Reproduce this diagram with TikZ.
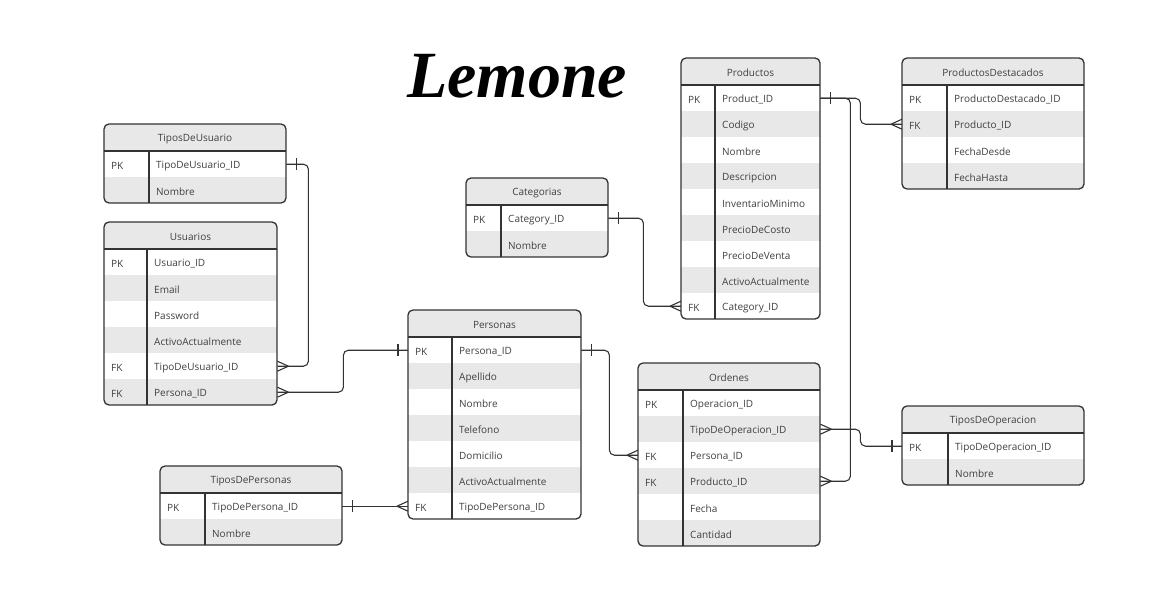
\documentclass[tikz,border=0pt]{standalone}
\usepackage{fontspec}
\setmainfont{Open Sans}
\newfontfamily\titlefont{Liberation Serif}
\usetikzlibrary{calc}
\colorlet{table edge}{black!80}
\colorlet{row area}{black!9}
\colorlet{field text}{black!75}
\tikzset{edge/.style={draw=table edge, line width=1.3pt},
    link/.style={draw=table edge, line width=1.1pt, rounded corners=5pt},
    field/.style={font=\fontsize{10}{12}\selectfont, text=field text, inner sep=0pt},
    rowbox/.style={minimum height=26pt, inner sep=0pt, anchor=north west}}
\newcommand\ertable[7]{%
  \foreach \k/\f [count=\i] in {#7} {\xdef\nrows{\i}}
  \pgfmathsetmacro\tabh{27+26*\nrows}
  \begin{scope}[shift={(#2,#3)}]
    \begin{scope}
      \clip[rounded corners=5pt] (0,0) rectangle (#4,\tabh);
      \fill[row area] (0,0) rectangle (#4,27);
      \foreach \k/\f [count=\i] in {#7} {
        \ifodd\i\def\rowfill{white}\else\def\rowfill{row area}\fi
        \node[rowbox, fill=\rowfill, minimum width=#4pt] (#1-\i) at (0,{1+26*\i}) {};
        \node[field, anchor=west] at ($(#1-\i.west)+(7,1.5)$) {\k};
        \node[field, anchor=west] at ($(#1-\i.west)+(#5+7,1.5)$) {\f};
      }
    \end{scope}
    \node[field] at (#4/2,15) {#6};
    \draw[edge] (0,27) -- (#4,27) (#5,27) -- (#5,\tabh);
    \draw[edge, rounded corners=5pt] (0,0) rectangle (#4,\tabh);
  \end{scope}}
\newcommand\manyend[2]{\draw[link] ($(#1)+(#2*11,0)$) -- ($(#1)+(0,-5)$) ($(#1)+(#2*11,0)$) -- ($(#1)+(0,5)$);}
\newcommand\oneend[2]{\draw[link] ($(#1)+(#2*10,-6)$) -- ($(#1)+(#2*10,6)$);}

\begin{document}
\begin{tikzpicture}[x=1pt,y=-1pt]
    \useasboundingbox (0,0) rectangle (1167,602);
    \node[font=\titlefont\bfseries\itshape\fontsize{66}{66}\selectfont, anchor=base] (title) at (517,97) {Lemone};
    \ertable{tdu}{104}{124}{182}{45}{TiposDeUsuario}{PK/TipoDeUsuario\_ID, /Nombre}
    \ertable{usu}{104}{222}{173}{43}{Usuarios}{PK/Usuario\_ID, /Email, /Password, /ActivoActualmente, FK/TipoDeUsuario\_ID, FK/Persona\_ID}
    \ertable{cat}{466}{178}{142}{35}{Categorias}{PK/Category\_ID, /Nombre}
    \ertable{pro}{681}{58}{139}{34}{Productos}{PK/Product\_ID, /Codigo, /Nombre, /Descripcion, /InventarioMinimo, /PrecioDeCosto, /PrecioDeVenta, /ActivoActualmente, FK/Category\_ID}
    \ertable{pde}{902}{58}{182}{45}{ProductosDestacados}{PK/ProductoDestacado\_ID, FK/Producto\_ID, /FechaDesde, /FechaHasta}
    \ertable{per}{408}{310}{173}{44}{Personas}{PK/Persona\_ID, /Apellido, /Nombre, /Telefono, /Domicilio, /ActivoActualmente, FK/TipoDePersona\_ID}
    \ertable{tdp}{160}{466}{182}{45}{TiposDePersonas}{PK/TipoDePersona\_ID, /Nombre}
    \ertable{ord}{638}{363}{182}{45}{Ordenes}{PK/Operacion\_ID, /TipoDeOperacion\_ID, FK/Persona\_ID, FK/Producto\_ID, /Fecha, /Cantidad}
    \ertable{tdo}{902}{406}{182}{46}{TiposDeOperacion}{PK/TipoDeOperacion\_ID, /Nombre}
    \draw[link] (tdu-1.east) -- ++(22,0) |- (usu-5.east);
    \draw[link] (usu-6.east) -- ++(66,0) |- (per-1.west);
    \draw[link] (tdp-1.east) -- (per-7.west);
    \draw[link] (per-1.east) -- ++(28,0) |- (ord-3.west);
    \draw[link] (cat-1.east) -- ++(35,0) |- (pro-9.west);
    \draw[link] (pro-1.east) -- ++(40,0) |- (pde-2.west);
    \draw[link] (pro-1.east) -- ++(30,0) |- (ord-4.east);
    \draw[link] (ord-2.east) -- ++(40,0) |- (tdo-1.west);
    \oneend{tdu-1.east}{1} \manyend{usu-5.east}{1}
    \manyend{usu-6.east}{1} \oneend{per-1.west}{-1}
    \oneend{tdp-1.east}{1} \manyend{per-7.west}{-1}
    \oneend{per-1.east}{1} \manyend{ord-3.west}{-1}
    \oneend{cat-1.east}{1} \manyend{pro-9.west}{-1}
    \oneend{pro-1.east}{1} \manyend{pde-2.west}{-1} \manyend{ord-4.east}{1}
    \manyend{ord-2.east}{1} \oneend{tdo-1.west}{-1}
\end{tikzpicture}
\end{document}
